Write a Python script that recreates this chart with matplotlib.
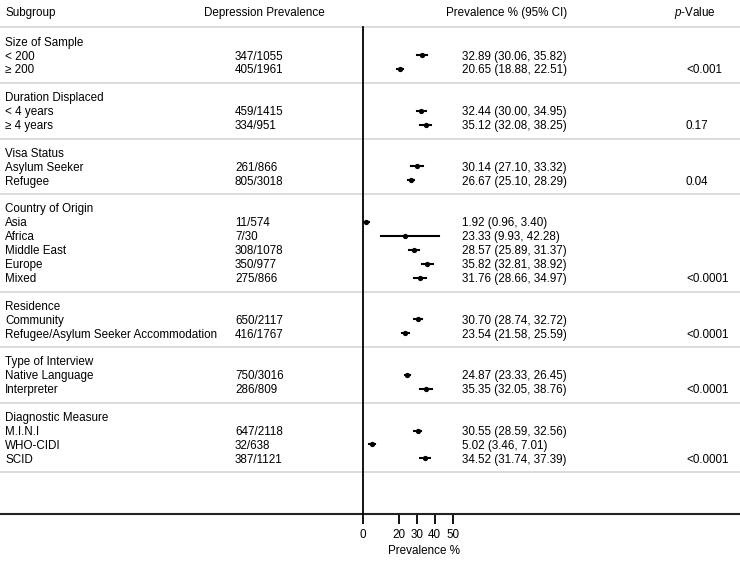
import numpy as np
import matplotlib
matplotlib.use("Agg")
import matplotlib.pyplot as plt
from matplotlib.transforms import blended_transform_factory

plt.rcParams['font.family'] = 'Liberation Sans'
plt.rcParams['mathtext.fontset'] = 'custom'
plt.rcParams['mathtext.it'] = 'Liberation Sans:italic'
plt.rcParams['mathtext.rm'] = 'Liberation Sans'

groups = ["Size of Sample", "Duration Displaced", "Visa Status", "Country of Origin",
          "Residence", "Type of Interview", "Diagnostic Measure"]
subgroups = [
    ["< 200", "\u2265 200"],
    ["< 4 years", "\u2265 4 years"],
    ["Asylum Seeker", "Refugee"],
    ["Asia", "Africa", "Middle East", "Europe", "Mixed"],
    ["Community", "Refugee/Asylum Seeker Accommodation"],
    ["Native Language", "Interpreter"],
    ["M.I.N.I", "WHO-CIDI", "SCID"],
]
counts = [
    ["347/1055", "405/1961"],
    ["459/1415", "334/951"],
    ["261/866", "805/3018"],
    ["11/574", "7/30", "308/1078", "350/977", "275/866"],
    ["650/2117", "416/1767"],
    ["750/3016", "286/809"],
    ["647/2118", "32/638", "387/1121"],
]
est = [
    [32.89, 20.65],
    [32.44, 35.12],
    [30.14, 26.67],
    [1.92, 23.33, 28.57, 35.82, 31.76],
    [30.70, 23.54],
    [24.87, 35.35],
    [30.55, 5.02, 34.52],
]
lo = [
    [30.06, 18.88],
    [30.00, 32.08],
    [27.10, 25.10],
    [0.96, 9.93, 25.89, 32.81, 28.66],
    [28.74, 21.58],
    [23.33, 32.05],
    [28.59, 3.46, 31.74],
]
hi = [
    [35.82, 22.51],
    [34.95, 38.25],
    [33.32, 28.29],
    [3.40, 42.28, 31.37, 38.92, 34.97],
    [32.72, 25.59],
    [26.45, 38.76],
    [32.56, 7.01, 37.39],
]
pvals = ["<0.001", "0.17", "0.04", "<0.0001", "<0.0001", "<0.0001", "<0.0001"]
xticks = [0, 20, 30, 40, 50]

W, H = 740, 562
fig = plt.figure(figsize=(W / 100, H / 100), dpi=100)
ax = fig.add_axes([362.7 / W, (H - 514) / H, (485 - 362.7) / W, (514 - 27.3) / H])

nrows = sum(len(s) + 2 for s in subgroups) + 3
ax.set_xlim(0, 68)
ax.set_ylim(nrows, 0)

tr = blended_transform_factory(fig.transFigure, ax.transData)
fs = 8.4
x_sub, x_cnt, x_ci, x_p = 5 / W, 235 / W, 461.7 / W, 686 / W
dy = 0.1

# header
ax.text(x_sub, -1, "Subgroup", transform=tr, fontsize=fs, va='center', clip_on=False)
ax.text(264 / W, -1, "Depression Prevalence", transform=tr, fontsize=fs, va='center', ha='center', clip_on=False)
ax.text(507 / W, -1, "Prevalence % (95% CI)", transform=tr, fontsize=fs, va='center', ha='center', clip_on=False)
ax.text(695 / W, -1, r"$\it{p}$-Value", transform=tr, fontsize=fs, va='center', ha='center', clip_on=False)

sep_color = '#d6d6d6'
ax.plot([0, 1], [0, 0], transform=tr, color=sep_color, lw=1.2, clip_on=False)

r = 0
for g, name in enumerate(groups):
    ax.text(x_sub, r + 1 + dy, name, transform=tr, fontsize=fs, va='center', clip_on=False)
    for i, lab in enumerate(subgroups[g]):
        y = r + 2 + i
        ax.text(x_sub, y + dy, lab, transform=tr, fontsize=fs, va='center', clip_on=False)
        ax.text(x_cnt, y + dy, counts[g][i], transform=tr, fontsize=fs, va='center', clip_on=False)
        ax.text(x_ci, y + dy, "%.2f (%.2f, %.2f)" % (est[g][i], lo[g][i], hi[g][i]),
                transform=tr, fontsize=fs, va='center', clip_on=False)
        ax.plot([lo[g][i], hi[g][i]], [y, y], color='black', lw=1.5, clip_on=False)
        ax.plot(est[g][i], y, 'o', color='black', ms=3.8, mew=0, clip_on=False)
    last = r + 1 + len(subgroups[g])
    ax.text(x_p, last + dy, pvals[g], transform=tr, fontsize=fs, va='center', clip_on=False)
    r = r + len(subgroups[g]) + 2
    ax.plot([0, 1], [r, r], transform=tr, color=sep_color, lw=1.2, clip_on=False)

# bottom axis line across the whole width
ax.plot([0, 1], [nrows, nrows], transform=tr, color='#222222', lw=1.5, clip_on=False)

for s in ['top', 'right', 'bottom']:
    ax.spines[s].set_visible(False)
ax.spines['left'].set_linewidth(1.3)
ax.spines['left'].set_zorder(5)
ax.set_yticks([])
ax.set_xticks(xticks)
ax.tick_params(axis='x', direction='out', length=7, width=1.3, pad=4, labelsize=fs)
ax.set_xlabel("Prevalence %", fontsize=fs, labelpad=3)
ax.patch.set_visible(False)

fig.savefig("out.png", dpi=100)
